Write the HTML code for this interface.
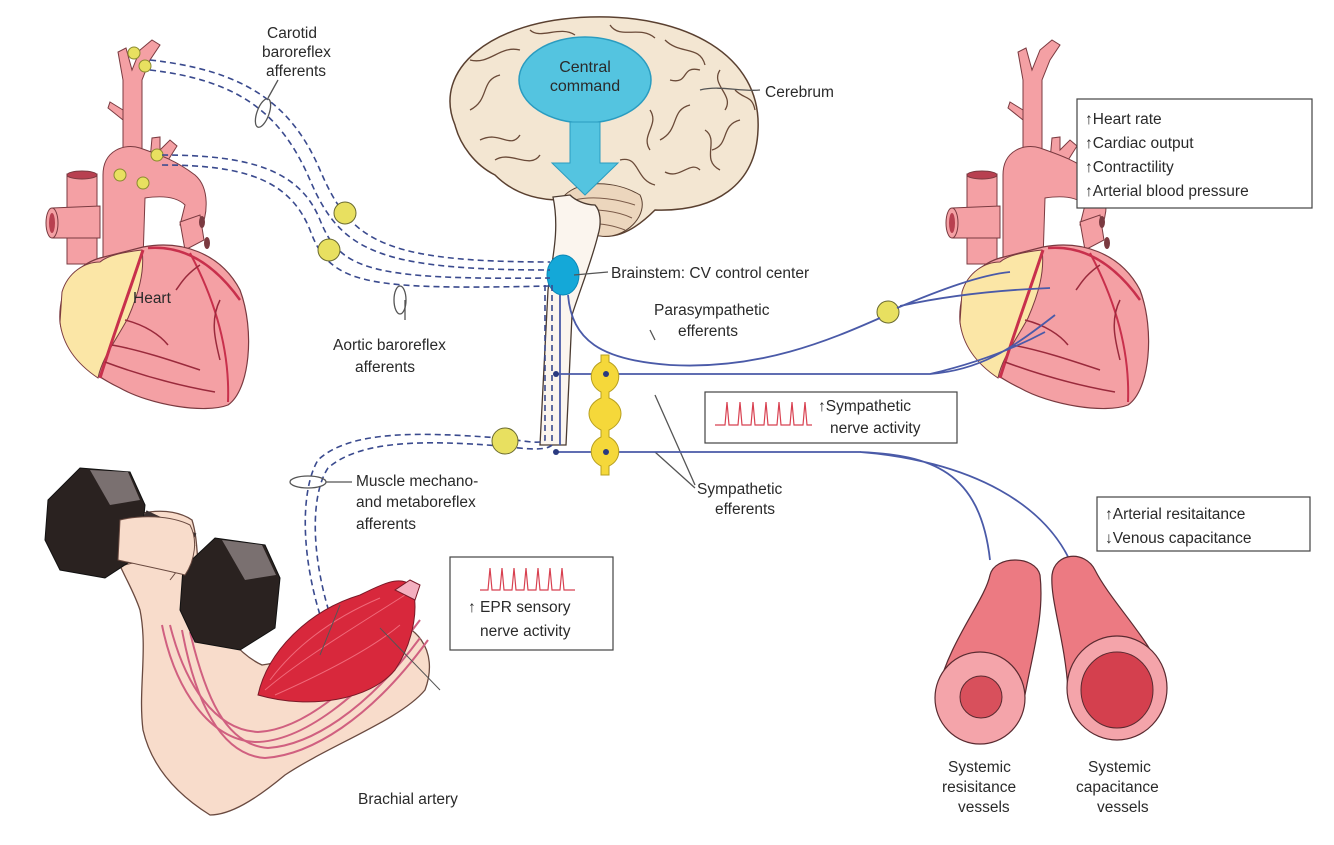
<!DOCTYPE html>
<html><head><meta charset="utf-8"><style>
html,body{margin:0;padding:0;background:#fff;}
svg{display:block;}
text{font-family:"Liberation Sans",sans-serif;font-size:15.5px;fill:#2a2a2a;}
</style></head><body>
<svg width="1334" height="845" viewBox="0 0 1334 845" xmlns="http://www.w3.org/2000/svg">
<defs>
<g id="heart">
  <!-- carotid -->
  <path d="M123,170 L123,80 L118,52 L126,48 L132,70 L140,50 L152,40 L160,45 L150,60 L142,80 L142,170 Z" fill="#f4a0a4" stroke="#7a3a40" stroke-width="1"/>
  <path d="M123,110 L110,102 L108,108 L123,120 Z" fill="#f4a0a4" stroke="#7a3a40" stroke-width="1"/>
  <path d="M150,160 L152,138 L160,137 L160,150 L170,140 L177,146 L165,165 Z" fill="#f4a0a4" stroke="#7a3a40" stroke-width="1"/>
  <!-- SVC -->
  <rect x="67" y="174" width="30" height="90" fill="#f4a0a4" stroke="#7a3a40"/>
  <ellipse cx="82" cy="175" rx="15" ry="4" fill="#b84050" stroke="#7a3a40"/>
  <!-- pulmonary left -->
  <path d="M52,208 L100,206 L100,238 L52,238 Z" fill="#f4a0a4" stroke="#7a3a40"/>
  <ellipse cx="52" cy="223" rx="6" ry="15" fill="#f4a0a4" stroke="#7a3a40"/>
  <ellipse cx="52" cy="223" rx="3" ry="10" fill="#b84050"/>
  <!-- aorta -->
  <path d="M103,260 L103,175 C103,150 125,143 140,148 C160,155 175,160 195,175 C210,188 208,215 200,230 L180,225 L185,205 C178,198 165,195 145,198 L143,260 Z" fill="#f4a0a4" stroke="#7a3a40"/>
  <!-- pulm veins right -->
  <path d="M180,222 L200,215 L204,240 L185,250 Z" fill="#f4a0a4" stroke="#7a3a40"/>
  <ellipse cx="202" cy="222" rx="3" ry="6" fill="#7a3a40"/>
  <ellipse cx="207" cy="243" rx="3" ry="6" fill="#7a3a40"/>
  <!-- ventricles -->
  <path d="M143,247 C180,240 220,252 240,290 C255,330 250,390 228,405 C205,414 150,405 120,388 C95,376 65,356 60,322 C58,290 75,265 100,258 Z" fill="#f4a0a4" stroke="#7a3a40" stroke-width="1.2"/>
  <!-- atrium yellow -->
  <path d="M62,292 C68,272 85,262 100,262 C108,255 125,252 142,250 C145,272 138,295 128,318 C115,342 102,358 98,378 C80,366 63,348 60,322 Z" fill="#fbe6a6" stroke="#7a3a40" stroke-width="1"/>
  <!-- coronary -->
  <path d="M143,250 C130,290 115,330 100,378" fill="none" stroke="#c8304c" stroke-width="3"/>
  <path d="M148,248 C185,245 215,265 240,300" fill="none" stroke="#c8304c" stroke-width="2.5"/>
  <path d="M190,253 C215,300 230,350 228,402" fill="none" stroke="#c8304c" stroke-width="2"/>
  <path d="M112,345 C140,350 170,360 200,370 M105,362 C140,375 175,385 215,392 M125,320 C145,325 160,335 168,345 M200,265 C185,275 180,285 176,290 M220,300 C210,320 215,340 220,360" fill="none" stroke="#9a2a3c" stroke-width="1.5"/>
</g>
</defs>

<use href="#heart"/>
<use href="#heart" transform="translate(900,0)"/>
<text x="133" y="303">Heart</text>

<!-- baroreceptor dots -->
<g fill="#e8e060" stroke="#8a8a30" stroke-width="1">
<circle cx="134" cy="53" r="6"/><circle cx="145" cy="66" r="6"/>
<circle cx="157" cy="155" r="6"/><circle cx="120" cy="175" r="6"/><circle cx="143" cy="183" r="6"/>
</g>

<!-- Brain -->
<path d="M455,125 C432,70 490,20 590,17 C685,14 762,55 758,130 C756,185 715,212 655,210 C640,225 620,240 600,235 C575,235 565,215 560,200 C530,200 510,190 495,175 C475,165 460,145 455,125 Z" fill="#f3e6d2" stroke="#5a4030" stroke-width="1.5"/>
<g fill="none" stroke="#6a4a38" stroke-width="1.3">
<path d="M470,110 C490,100 480,80 500,75 M480,140 C500,130 510,150 520,135 M495,160 C510,150 530,170 540,155 M470,60 C490,65 500,45 520,50 M530,30 C540,40 560,25 575,35 M610,25 C620,40 640,25 655,38 M665,40 C680,55 700,45 705,65 M720,70 C710,85 735,95 725,110 M740,120 C720,125 730,145 712,150 M700,170 C690,160 680,180 665,172 M660,140 C680,130 670,110 690,105 M670,80 C690,85 680,65 700,70 M650,110 C660,125 640,135 650,150 M620,160 C640,155 635,180 655,185 M705,130 C720,140 700,160 720,170 M735,90 C745,100 752,95 755,110"/>
</g>
<path d="M565,195 C580,180 615,180 640,195 C650,215 625,240 600,236 C575,235 562,215 565,195 Z" fill="#ecd6bd" stroke="#5a4030"/>
<path d="M575,200 C595,195 620,200 635,205 M572,212 C595,207 620,212 632,218 M578,224 C600,222 615,226 625,230" fill="none" stroke="#7a5a48"/>
<!-- Brainstem -->
<path d="M553,197 C560,230 552,260 548,290 L540,445 L566,445 L572,315 C580,290 592,260 598,235 C602,222 600,210 595,205 C585,205 575,200 570,195 Z" fill="#fbf5ee" stroke="#4a3a30" stroke-width="1.3"/>
<!-- central command -->
<ellipse cx="585" cy="80" rx="66" ry="43" fill="#54c4e0" stroke="#2a9cc0" stroke-width="1.5"/>
<text x="585" y="72" text-anchor="middle" style="font-size:16px">Central</text>
<text x="585" y="91" text-anchor="middle" style="font-size:16px">command</text>
<path d="M570,122 L600,122 L600,163 L618,163 L585,195 L552,163 L570,163 Z" fill="#54c4e0" stroke="#2a9cc0"/>
<ellipse cx="563" cy="275" rx="16" ry="20" fill="#14a8d8" stroke="#0a88b8"/>

<!-- afferent dashed -->
<g fill="none" stroke="#3a4a8e" stroke-width="1.6" stroke-dasharray="6,4">
<path d="M150,60 C240,70 290,100 320,170 C350,240 380,262 550,262"/>
<path d="M150,70 C235,80 280,110 310,180 C340,250 375,270 550,270"/>
<path d="M162,155 C250,155 300,170 320,220 C340,270 370,280 550,278"/>
<path d="M162,165 C245,165 290,180 310,230 C330,285 365,290 550,286"/>
<path d="M545,285 L545,440 C540,445 520,440 500,438 C420,432 350,430 318,460 C300,490 300,560 325,630"/>
<path d="M552,285 L552,445 C545,452 520,448 500,446 C425,440 360,440 328,468 C310,495 310,560 335,630"/>
</g>
<g fill="#e8e060" stroke="#6a6a30">
<circle cx="345" cy="213" r="11"/><circle cx="329" cy="250" r="11"/><circle cx="505" cy="441" r="13"/>
<circle cx="888" cy="312" r="11"/>
</g>
<g fill="none" stroke="#555" stroke-width="1.3">
<ellipse cx="263" cy="113" rx="6" ry="15" transform="rotate(20 263 113)"/>
<ellipse cx="400" cy="300" rx="6" ry="14"/>
<ellipse cx="308" cy="482" rx="18" ry="6"/>
<path d="M268,98 L278,80 M405,300 L405,320 M326,482 L352,482 M574,275 L608,272 M700,90 C720,85 740,92 760,90 M655,340 L650,330 M655,395 L695,485 M655,452 L695,488"/>
</g>

<!-- efferents -->
<g fill="none" stroke="#4a5aa8" stroke-width="1.8">
<path d="M568,295 C572,340 600,360 670,365 C760,370 830,340 880,318"/>
<path d="M897,308 C940,290 980,275 1010,272 M900,306 C950,295 1000,290 1050,288"/>
<path d="M556,374 L930,374 C980,370 1010,350 1055,315 M930,374 C990,360 1030,340 1045,332"/>
<path d="M556,452 L860,452 C930,455 980,470 990,560 M860,452 C960,460 1060,500 1080,590"/>
<path d="M560,295 L560,445"/>
</g>
<!-- sympathetic chain -->
<path d="M601,355 L609,355 L609,362 C622,368 622,385 609,392 L609,398 C625,405 625,422 609,430 L609,437 C622,443 622,460 609,466 L609,475 L601,475 L601,466 C588,460 588,443 601,437 L601,430 C585,422 585,405 601,398 L601,392 C588,385 588,368 601,362 Z" fill="#f5d83a" stroke="#b8a020"/>
<circle cx="606" cy="374" r="3" fill="#2a3a80"/><circle cx="606" cy="452" r="3" fill="#2a3a80"/>
<circle cx="556" cy="374" r="3" fill="#2a3a80"/><circle cx="556" cy="452" r="3" fill="#2a3a80"/>

<!-- boxes -->
<g fill="#fff" stroke="#444" stroke-width="1.2">
<rect x="1077" y="99" width="235" height="109"/>
<rect x="705" y="392" width="252" height="51"/>
<rect x="450" y="557" width="163" height="93"/>
<rect x="1097" y="497" width="213" height="54"/>
</g>
<text x="1085" y="124">↑Heart rate</text>
<text x="1085" y="148">↑Cardiac output</text>
<text x="1085" y="172">↑Contractility</text>
<text x="1085" y="196">↑Arterial blood pressure</text>
<text x="818" y="411">↑Sympathetic</text>
<text x="830" y="433">nerve activity</text>
<text x="468" y="612">↑ EPR sensory</text>
<text x="480" y="636">nerve activity</text>
<text x="1105" y="519">↑Arterial resitaitance</text>
<text x="1105" y="543">↓Venous capacitance</text>
<g fill="none" stroke="#d84050" stroke-width="1.2">
<path d="M715,425 L725,425 L727,402 L729,425 L738,425 L740,402 L742,425 L751,425 L753,402 L755,425 L764,425 L766,402 L768,425 L777,425 L779,402 L781,425 L790,425 L792,402 L794,425 L803,425 L805,402 L807,425 L812,425"/>
<path d="M480,590 L488,590 L490,568 L492,590 L500,590 L502,568 L504,590 L512,590 L514,568 L516,590 L524,590 L526,568 L528,590 L536,590 L538,568 L540,590 L548,590 L550,568 L552,590 L560,590 L562,568 L564,590 L575,590"/>
</g>

<!-- labels -->
<text x="267" y="38">Carotid</text>
<text x="262" y="57">baroreflex</text>
<text x="266" y="76">afferents</text>
<text x="765" y="97">Cerebrum</text>
<text x="611" y="278">Brainstem: CV control center</text>
<text x="654" y="315">Parasympathetic</text>
<text x="678" y="336">efferents</text>
<text x="333" y="350">Aortic baroreflex</text>
<text x="355" y="372">afferents</text>
<text x="356" y="486">Muscle mechano-</text>
<text x="356" y="507">and metaboreflex</text>
<text x="356" y="529">afferents</text>
<text x="697" y="494">Sympathetic</text>
<text x="715" y="514">efferents</text>
<text x="358" y="804">Brachial artery</text>
<text x="948" y="772">Systemic</text>
<text x="942" y="792">resisitance</text>
<text x="958" y="812">vessels</text>
<text x="1088" y="772">Systemic</text>
<text x="1076" y="792">capacitance</text>
<text x="1097" y="812">vessels</text>

<!-- arm -->
<path d="M110,530 C130,510 170,505 192,520 C200,545 195,575 205,600 C220,630 240,655 262,665 C300,660 340,640 380,620 C415,620 440,650 425,690 C400,720 330,745 285,775 C255,800 230,815 210,815 C170,790 150,760 143,730 C138,690 148,650 140,610 C130,580 112,560 110,530 Z" fill="#f8dccb" stroke="#6a4a40" stroke-width="1.3"/>
<path d="M118,545 C140,540 160,545 180,550 M125,565 C140,560 165,562 185,568 M195,545 C185,560 178,570 170,580" fill="none" stroke="#6a4a40"/>
<g fill="none" stroke="#d06080" stroke-width="2">
<path d="M162,625 C175,690 210,740 255,742 C300,742 360,700 420,620"/>
<path d="M170,625 C185,685 215,730 258,732 C300,730 355,690 412,615"/>
<path d="M182,630 C195,700 220,755 265,758 C310,755 370,720 428,640"/>
<path d="M190,632 C205,695 225,745 268,748 C310,745 365,712 420,638"/>
</g>
<!-- muscle -->
<path d="M258,695 C268,650 310,610 360,595 C380,585 400,575 410,585 C420,600 415,640 395,670 C370,700 310,710 258,695 Z" fill="#d8283c" stroke="#7a1a28"/>
<path d="M265,690 C300,660 350,630 405,595 M275,695 C320,675 370,650 400,625 M270,680 C300,640 340,615 380,598" fill="none" stroke="#f06a7a" stroke-width="1"/>
<path d="M395,590 L410,580 L420,585 L415,600 Z" fill="#f4b0c0" stroke="#7a1a28"/>
<path d="M340,605 L320,655 M380,628 L440,690" fill="none" stroke="#555"/>
<!-- dumbbell -->
<path d="M48,500 L80,468 L130,472 L145,505 L140,555 L105,578 L60,570 L45,540 Z" fill="#2a2220" stroke="#111"/>
<path d="M90,470 L128,472 L140,500 L110,505 Z" fill="#7a7070"/>
<rect x="140" y="520" width="55" height="20" fill="#3a3030" transform="rotate(25 165 530)"/>
<path d="M183,568 L215,538 L265,545 L280,578 L275,628 L240,650 L195,642 L180,610 Z" fill="#2a2220" stroke="#111"/>
<path d="M222,540 L262,545 L276,575 L245,580 Z" fill="#7a7070"/>
<path d="M120,520 C140,515 170,515 190,525 C198,540 195,560 185,575 C165,570 140,565 118,560 Z" fill="#f8dccb" stroke="#6a4a40"/>

<!-- vessels -->
<path d="M938,690 C950,640 985,600 990,575 C995,555 1035,555 1040,575 C1045,620 1030,660 1022,712 Z" fill="#ec7a82" stroke="#5a2a30" stroke-width="1.2"/>
<ellipse cx="980" cy="698" rx="45" ry="46" fill="#f4a4aa" stroke="#5a2a30" stroke-width="1.2"/>
<ellipse cx="981" cy="697" rx="21" ry="21" fill="#d8505c" stroke="#5a2a30"/>
<path d="M1068,690 C1065,640 1050,600 1052,575 C1055,552 1085,550 1095,570 C1110,600 1150,640 1160,670 Z" fill="#ec7a82" stroke="#5a2a30" stroke-width="1.2"/>
<ellipse cx="1117" cy="688" rx="50" ry="52" fill="#f4a4aa" stroke="#5a2a30" stroke-width="1.2"/>
<ellipse cx="1117" cy="690" rx="36" ry="38" fill="#d4404e" stroke="#5a2a30"/>
</svg>
</body></html>
